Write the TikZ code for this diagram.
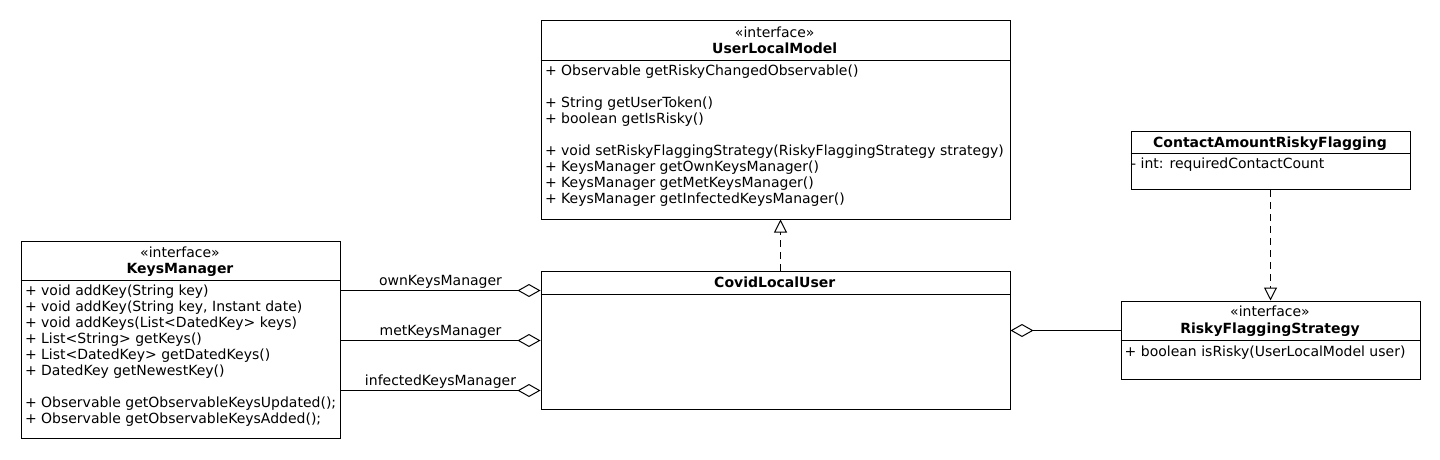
\documentclass[tikz,border=0pt]{standalone}
\usepackage{fontspec}
\setmainfont{DejaVu Sans}
\usetikzlibrary{arrows.meta}
\tikzset{
  classbox/.style={draw=black, line width=1pt, fill=white, rectangle, inner sep=0pt, anchor=north west},
  sepline/.style={draw=black, line width=1pt},
  mem/.style={inner sep=0pt, anchor=base west, font=\fontsize{14}{16}\selectfont},
  stereo/.style={inner sep=0pt, anchor=base, font=\fontsize{14}{16}\selectfont},
  cname/.style={inner sep=0pt, anchor=base, font=\fontsize{14}{16}\selectfont\bfseries},
  lbl/.style={inner sep=0pt, anchor=base, font=\fontsize{14}{16}\selectfont},
  agg/.style={draw=black, line width=1pt, -{Diamond[open,length=23pt,width=13pt]}},
  realize/.style={draw=black, line width=1pt, dash pattern=on 7pt off 5pt, -{Triangle[open,length=13pt,width=13pt]}}
}
\newcommand{\mem}[4]{\node[mem] (#1) at (#2,#3) {#4};}
\begin{document}
\begin{tikzpicture}[x=1pt,y=-1pt]
\fill[white] (0,0) rectangle (1440,460);
\useasboundingbox (0,0) rectangle (1440,460);

% UserLocalModel
\node[classbox, minimum width=469pt, minimum height=198pt] (ulm) at (540.5,20.5) {};
\draw[sepline] (ulm.west |- 0,60.5) -- (ulm.east |- 0,60.5);
\node[stereo] (ulmS) at (774.75,37.3) {«interface»};
\node[cname] (ulmN) at (774.75,53.8) {UserLocalModel};
\mem{ulm1}{544.8}{75.5}{+ Observable getRiskyChangedObservable()}
\mem{ulm2}{544.8}{107.5}{+ String getUserToken()}
\mem{ulm3}{544.8}{123.5}{+ boolean getIsRisky()}
\mem{ulm4}{544.8}{155.5}{+ void setRiskyFlaggingStrategy(RiskyFlaggingStrategy strategy)}
\mem{ulm5}{544.8}{171.5}{+ KeysManager getOwnKeysManager()}
\mem{ulm6}{544.8}{187.5}{+ KeysManager getMetKeysManager()}
\mem{ulm7}{544.8}{203.5}{+ KeysManager getInfectedKeysManager()}

% KeysManager
\node[classbox, minimum width=319pt, minimum height=197pt] (km) at (20.5,240.5) {};
\draw[sepline] (km.west |- 0,280.5) -- (km.east |- 0,280.5);
\node[stereo] (kmS) at (180,257.2) {«interface»};
\node[cname] (kmN) at (180,273.5) {KeysManager};
\mem{km1}{24.8}{295.4}{+ void addKey(String key)}
\mem{km2}{24.8}{311.4}{+ void addKey(String key, Instant date)}
\mem{km3}{24.8}{327.4}{+ void addKeys(List<DatedKey> keys)}
\mem{km4}{24.8}{343.4}{+ List<String> getKeys()}
\mem{km5}{24.8}{359.4}{+ List<DatedKey> getDatedKeys()}
\mem{km6}{24.8}{375.4}{+ DatedKey getNewestKey()}
\mem{km7}{24.8}{407.4}{+ Observable getObservableKeysUpdated();}
\mem{km8}{24.8}{423.4}{+ Observable getObservableKeysAdded();}

% CovidLocalUser
\node[classbox, minimum width=469pt, minimum height=138.5pt] (cov) at (540.5,270.5) {};
\draw[sepline] (cov.west |- 0,294.3) -- (cov.east |- 0,294.3);
\node[cname] (covN) at (774.75,287.5) {CovidLocalUser};

% ContactAmountRiskyFlagging
\node[classbox, minimum width=279pt, minimum height=58.5pt] (carf) at (1130.5,130.5) {};
\draw[sepline] (carf.west |- 0,153.3) -- (carf.east |- 0,153.3);
\node[cname] (carfN) at (1270,147.3) {ContactAmountRiskyFlagging};
\mem{carf1}{1131}{168.3}{- int: requiredContactCount}

% RiskyFlaggingStrategy
\node[classbox, minimum width=299pt, minimum height=78.5pt] (rfs) at (1120.5,300.5) {};
\draw[sepline] (rfs.west |- 0,340.5) -- (rfs.east |- 0,340.5);
\node[stereo] (rfsS) at (1270,316.7) {«interface»};
\node[cname] (rfsN) at (1270,333.3) {RiskyFlaggingStrategy};
\mem{rfs1}{1124.5}{356}{+ boolean isRisky(UserLocalModel user)}

% Connectors
\draw[realize] (cov.north -| 780.5,0) -- (ulm.south -| 780.5,0);
\draw[realize] (carf.south) -- (rfs.north);
\draw[agg] (km.east |- 0,290.5) -- node[lbl, midway, yshift=5.5pt] (lOwn) {ownKeysManager} (cov.west |- 0,290.5);
\draw[agg] (km.east |- 0,340.5) -- node[lbl, midway, yshift=5.5pt] (lMet) {metKeysManager} (cov.west |- 0,340.5);
\draw[agg] (km.east |- 0,390.5) -- node[lbl, midway, yshift=5.5pt] (lInf) {infectedKeysManager} (cov.west |- 0,390.5);
\draw[agg] (rfs.west |- 0,330.5) -- (cov.east |- 0,330.5);
\end{tikzpicture}
\end{document}
